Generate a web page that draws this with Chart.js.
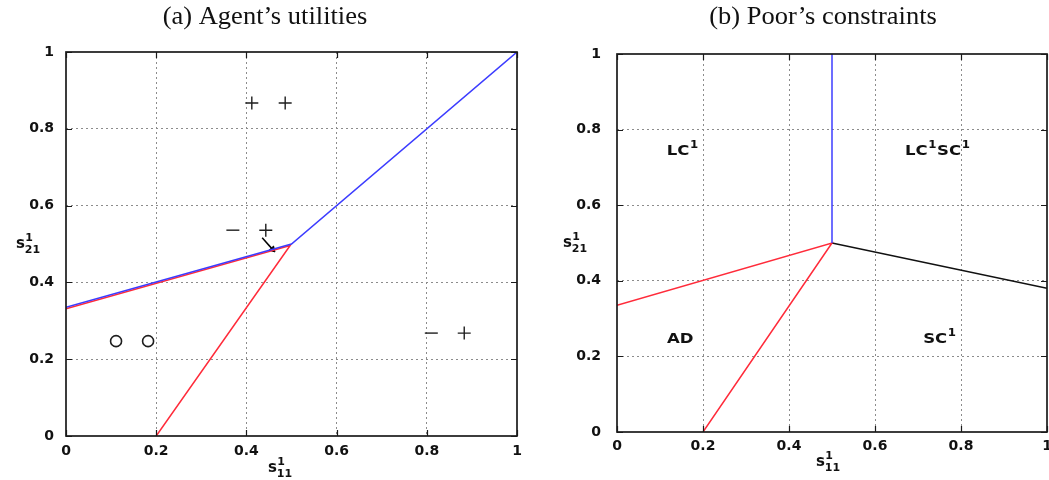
<!DOCTYPE html>
<html><head><meta charset="utf-8">
<script src="https://cdn.jsdelivr.net/npm/chart.js@4/dist/chart.umd.min.js"></script>
<style>
html,body{margin:0;padding:0;background:#fff;overflow:hidden;width:1049px;height:480px;position:relative;}
#wrapA{position:absolute;left:0;top:0;width:530px;height:480px;}
#wrapB{position:absolute;left:530px;top:0;width:530px;height:480px;}
canvas{display:block;}
</style></head><body>
<div id="wrapA"><canvas id="cA" width="530" height="480"></canvas></div>
<div id="wrapB"><canvas id="cB" width="530" height="480"></canvas></div>
<script>
// ---- shared ticks ----
const tickValues = [0, 0.2, 0.4, 0.6, 0.8, 1];
const tickLabels = ['0', '0.2', '0.4', '0.6', '0.8', '1'];

// ---- panel (a) Agent's utilities ----
const aBlueX = [0, 0.5, 1];
const aBlueY = [0.335, 0.5, 1];
const aRedX = [0, 0.497, 0.2];
const aRedY = [0.331, 0.496, 0];
const aPlusX = [0.412, 0.486, 0.443, 0.883];
const aPlusY = [0.867, 0.867, 0.536, 0.268];
const aMinusX = [0.37, 0.81];
const aMinusY = [0.536, 0.268];
const aCircleX = [0.111, 0.182];
const aCircleY = [0.247, 0.247];
const aArrowX = [0.435, 0.458];
const aArrowY = [0.516, 0.486];

// ---- panel (b) Poor's constraints ----
const bBlueX = [0.5, 0.5];
const bBlueY = [0.5, 1];
const bRedX = [0, 0.5, 0.2];
const bRedY = [0.335, 0.5, 0];
const bBlackX = [0.5, 1];
const bBlackY = [0.5, 0.38];
// region labels: each is a list of [text, superscript] pieces
const bRegionText = [[['LC', '1']], [['LC', '1'], ['SC', '1']], [['AD', '']], [['SC', '1']]];
const bRegionX = [0.153, 0.746, 0.147, 0.751];
const bRegionY = [0.746, 0.746, 0.249, 0.249];

const pts = (xs, ys) => xs.map((x, i) => ({x: x, y: ys[i]}));

const tickFont = {family: '"DejaVu Sans"', weight: 'bold', size: 14};
const STRETCH = 1.18;

function drawSS(ctx, base, sup, sub, cx, cy) {
  const bf = 'bold 15px "DejaVu Sans"', sf = 'bold 11px "DejaVu Sans"';
  ctx.font = bf; const wb = ctx.measureText(base).width;
  ctx.font = sf; const ws = Math.max(ctx.measureText(sup).width, ctx.measureText(sub).width);
  const x0 = cx - (wb + ws) / 2;
  ctx.textAlign = 'left'; ctx.textBaseline = 'alphabetic';
  ctx.font = bf; ctx.fillText(base, x0, cy + 4);
  ctx.font = sf;
  ctx.fillText(sup, x0 + wb + 0.5, cy - 3);
  ctx.fillText(sub, x0 + wb, cy + 9);
}

function drawSup(ctx, pieces, cx, cy) {
  const bf = 'bold 14px "DejaVu Sans"', sf = 'bold 10px "DejaVu Sans"';
  let total = 0;
  const w = pieces.map(p => {
    ctx.font = bf; const a = ctx.measureText(p[0]).width;
    ctx.font = sf; const b = p[1] ? ctx.measureText(p[1]).width + 1 : 0;
    total += a + b; return [a, b];
  });
  ctx.save();
  ctx.translate(cx, cy);
  ctx.scale(STRETCH, 1);
  let x = -total / 2;
  ctx.textAlign = 'left'; ctx.textBaseline = 'alphabetic';
  pieces.forEach((p, i) => {
    ctx.font = bf; ctx.fillText(p[0], x, 5);
    x += w[i][0];
    if (p[1]) { ctx.font = sf; ctx.fillText(p[1], x + 0.5, -2); x += w[i][1]; }
  });
  ctx.restore();
}

const deco = {
  id: 'deco',
  afterDraw(chart) {
    const o = chart.options.plugins.deco;
    const ctx = chart.ctx, a = chart.chartArea;
    const xs = chart.scales.x, ys = chart.scales.y;
    ctx.save();
    ctx.strokeStyle = '#1a1a1a';
    ctx.lineWidth = 1.2;
    ctx.beginPath();
    tickValues.forEach(v => {
      const px = Math.round(xs.getPixelForValue(v)) + 0.5;
      ctx.moveTo(px, a.bottom); ctx.lineTo(px, a.bottom - 6);
      ctx.moveTo(px, a.top); ctx.lineTo(px, a.top + 6);
      const py = Math.round(ys.getPixelForValue(v)) + 0.5;
      ctx.moveTo(a.left, py); ctx.lineTo(a.left + 6, py);
      ctx.moveTo(a.right, py); ctx.lineTo(a.right - 6, py);
    });
    ctx.stroke();
    ctx.lineWidth = 1.7;
    ctx.strokeRect(a.left, a.top, a.right - a.left, a.bottom - a.top);
    ctx.fillStyle = '#111';
    ctx.font = '25px "Liberation Serif"';
    ctx.textAlign = 'center'; ctx.textBaseline = 'middle';
    ctx.save();
    ctx.translate(o.titleX, o.titleY);
    ctx.scale(1.06, 1);
    ctx.fillText(o.title, 0, 0);
    ctx.restore();
    drawSS(ctx, 's', '1', '11', o.xTitle[0], o.xTitle[1]);
    drawSS(ctx, 's', '1', '21', o.yTitle[0], o.yTitle[1]);
    if (o.regions) {
      o.regions.text.forEach((t, i) => {
        drawSup(ctx, t, xs.getPixelForValue(o.regions.x[i]), ys.getPixelForValue(o.regions.y[i]));
      });
    }
    ctx.restore();
  }
};

function makeChart(id, datasets, cfg) {
  const gridColor = c => (c.tick && (c.tick.value === 0 || c.tick.value === 1)) ? 'rgba(0,0,0,0)' : '#8c8c8c';
  const common = {
    type: 'linear', min: 0, max: 1,
    afterBuildTicks: s => { s.ticks = tickValues.map(v => ({value: v})); },
    grid: {drawTicks: false, color: gridColor, lineWidth: 1},
    border: {display: false, dash: [2, 3]}
  };
  return new Chart(document.getElementById(id), {
    type: 'scatter',
    data: {datasets: datasets},
    options: {
      responsive: false, animation: false, devicePixelRatio: 1,
      layout: {padding: {top: cfg.top, right: cfg.right, left: 0, bottom: 0}},
      plugins: {legend: {display: false}, tooltip: {enabled: false}, deco: cfg.deco},
      scales: {
        x: Object.assign({}, common, {
          afterFit: s => { s.height = cfg.xH; },
          ticks: {callback: (v, i) => tickLabels[i], padding: cfg.xPad, font: tickFont, color: '#111', maxRotation: 0, autoSkip: false}
        }),
        y: Object.assign({}, common, {
          afterFit: s => { s.width = cfg.yW; },
          ticks: {callback: (v, i) => tickLabels[i], padding: cfg.yPad, font: tickFont, color: '#111', autoSkip: false}
        })
      }
    },
    plugins: [deco]
  });
}

const lineDs = (data, color) => ({data: data, showLine: true, borderColor: color, borderWidth: 1.5, pointRadius: 0, fill: false, tension: 0});
const BLUE = '#3c3cff', RED = '#ff2b3a', INK = '#1e1e1e';

makeChart('cA', [
  lineDs(pts(aBlueX, aBlueY), BLUE),
  lineDs(pts(aRedX, aRedY), RED),
  {data: pts(aPlusX, aPlusY), pointStyle: 'cross', pointRadius: 6.5, borderColor: INK, borderWidth: 1.4, showLine: false},
  {data: pts(aMinusX, aMinusY), pointStyle: 'line', pointRadius: 6.5, borderColor: INK, borderWidth: 1.4, showLine: false},
  {data: pts(aCircleX, aCircleY), pointStyle: 'circle', pointRadius: 5.5, borderColor: INK, backgroundColor: 'rgba(0,0,0,0)', borderWidth: 1.6, showLine: false},
  {data: pts(aArrowX, aArrowY), showLine: true, borderColor: '#000', borderWidth: 1.5, pointStyle: 'triangle',
   pointRadius: [0, 3.5], pointRotation: [0, 137], pointBackgroundColor: '#000', pointBorderColor: '#000', pointBorderWidth: 1}
], {top: 52, right: 13, xH: 44, yW: 66, xPad: 7, yPad: 12,
    deco: {title: '(a) Agent’s utilities', titleX: 265, titleY: 17, xTitle: [280, 468], yTitle: [28, 244]}});

makeChart('cB', [
  lineDs(pts(bBlueX, bBlueY), BLUE),
  lineDs(pts(bRedX, bRedY), RED),
  lineDs(pts(bBlackX, bBlackY), '#111')
], {top: 54, right: 13, xH: 48, yW: 87, xPad: 6, yPad: 16,
    deco: {title: '(b) Poor’s constraints', titleX: 293, titleY: 17, xTitle: [298, 462], yTitle: [45, 243],
           regions: {text: bRegionText, x: bRegionX, y: bRegionY}}});
</script>
</body></html>
